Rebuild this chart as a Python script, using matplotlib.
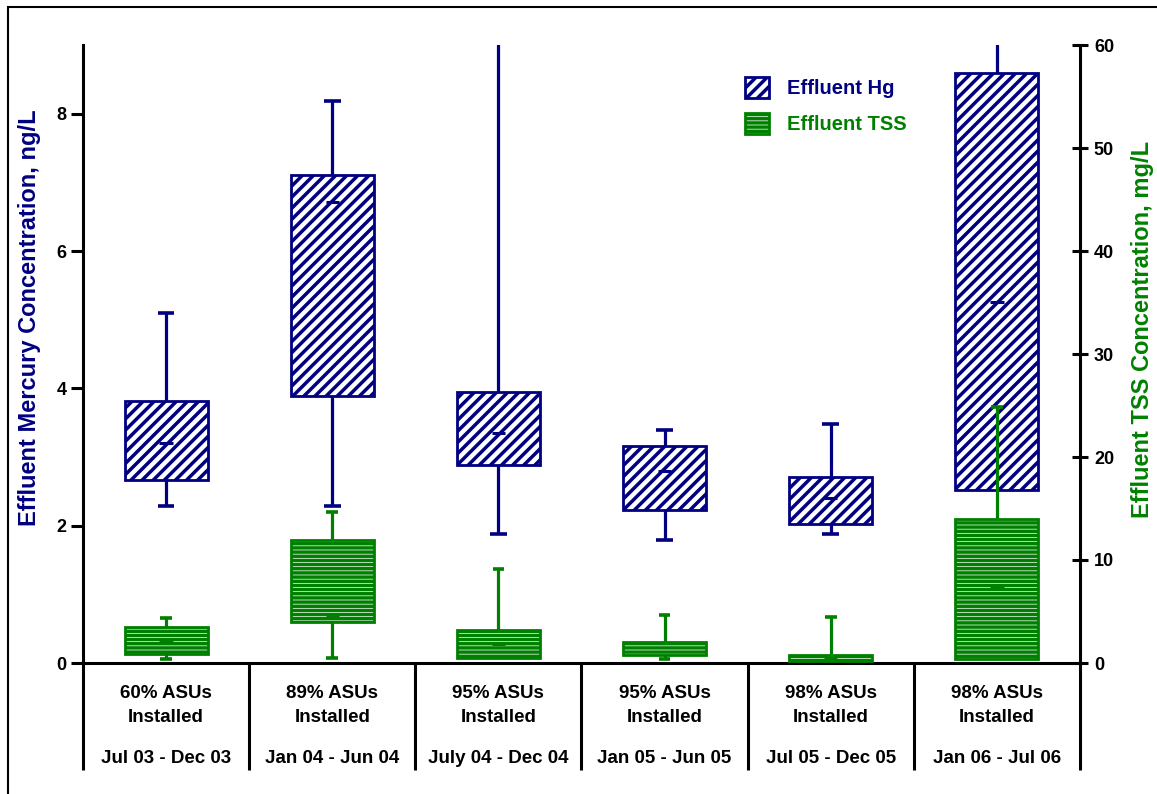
import matplotlib.pyplot as plt
import matplotlib.transforms as mtransforms
from matplotlib.patches import Patch, Rectangle
import numpy as np

plt.rcParams['font.family'] = ['Liberation Sans', 'DejaVu Sans']
plt.rcParams['font.weight'] = 'bold'
plt.rcParams['hatch.linewidth'] = 2.5

NAVY = '#000080'
GREEN = '#008000'
HG_HATCH = '///'
TSS_HATCH = '----'

pct_labels = ['60% ASUs', '89% ASUs', '95% ASUs', '95% ASUs', '98% ASUs', '98% ASUs']
periods = ['Jul 03 - Dec 03', 'Jan 04 - Jun 04', 'July 04 - Dec 04',
           'Jan 05 - Jun 05', 'Jul 05 - Dec 05', 'Jan 06 - Jul 06']

# effluent mercury, ng/L
hg_low = [2.29, 2.29, 1.88, 1.79, 1.88, 2.52]
hg_q1 = [2.67, 3.89, 2.89, 2.23, 2.03, 2.52]
hg_med = [3.20, 6.71, 3.35, 2.80, 2.40, 5.26]
hg_q3 = [3.82, 7.10, 3.95, 3.16, 2.71, 8.59]
hg_high = [5.10, 8.19, 10.6, 3.40, 3.48, 9.5]

# effluent TSS, mg/L
tss_low = [0.4, 0.5, 0.5, 0.4, 0.2, 0.4]
tss_q1 = [0.87, 4.0, 0.5, 0.8, 0.2, 0.4]
tss_med = [2.0, 4.5, 1.8, 1.9, 0.5, 7.3]
tss_q3 = [3.5, 11.9, 3.2, 2.0, 0.78, 14.0]
tss_high = [4.4, 14.7, 9.1, 4.7, 4.5, 24.9]

x = np.arange(1, len(periods) + 1)


def draw_boxes(ax, low, q1, med, q3, high, color, hatch, cap=0.1):
    q1 = np.array(q1)
    q3 = np.array(q3)
    bars = ax.bar(x, q3 - q1, bottom=q1, width=0.5, facecolor='white',
                  edgecolor=color, hatch=hatch, linewidth=2.0, zorder=2)
    for i, xi in enumerate(x):
        ax.vlines(xi, q3[i], high[i], color=color, lw=2.3, zorder=3)
        ax.hlines(high[i], xi - cap / 2, xi + cap / 2, color=color, lw=2.6, zorder=3)
        if low[i] < q1[i]:
            ax.vlines(xi, low[i], q1[i], color=color, lw=2.3, zorder=3)
            ax.hlines(low[i], xi - cap / 2, xi + cap / 2, color=color, lw=2.6, zorder=3)
        ax.hlines(med[i], xi - 0.04, xi + 0.04, color=color, lw=2.2, zorder=3)
    return bars


fig = plt.figure(figsize=(11.57, 7.94), dpi=100)

# outer frame
fig.patches.append(Rectangle((8 / 1157, -0.05), 1.1, 1.05 - 7 / 794,
                             transform=fig.transFigure, fill=False,
                             edgecolor='black', lw=1.5))

ax = fig.add_axes([83 / 1157, 1 - 663 / 794, (1080 - 83) / 1157, (663 - 45) / 794])
ax2 = ax.twinx()

draw_boxes(ax, hg_low, hg_q1, hg_med, hg_q3, hg_high, NAVY, HG_HATCH)
draw_boxes(ax2, tss_low, tss_q1, tss_med, tss_q3, tss_high, GREEN, TSS_HATCH, cap=0.07)

ax.set_xlim(0.5, 6.5)
ax.set_ylim(0, 9)
ax2.set_ylim(0, 60)
ax.set_yticks([0, 2, 4, 6, 8])
ax2.set_yticks([0, 10, 20, 30, 40, 50, 60])
ax.set_xticks([])

for a in (ax, ax2):
    a.spines['top'].set_visible(False)
    for s in a.spines.values():
        s.set_linewidth(2.2)
ax.spines['right'].set_visible(False)
ax2.spines['left'].set_visible(False)
ax2.spines['bottom'].set_visible(False)

ax.tick_params(axis='y', direction='out', length=9, width=2.2, labelsize=13, pad=3)
ax2.tick_params(axis='y', direction='inout', length=12, width=2.2, labelsize=13, pad=4)

ax.set_ylabel('Effluent Mercury Concentration, ng/L', color=NAVY, fontsize=17,
              fontweight='bold')
ax2.set_ylabel('Effluent TSS Concentration, mg/L', color=GREEN, fontsize=17,
               fontweight='bold')
ax.yaxis.set_label_coords(-0.042, 0.558)
ax2.yaxis.set_label_coords(1.051, 0.539)

# category table below the axis
trans = mtransforms.blended_transform_factory(ax.transData, ax.transAxes)
ax.vlines(np.arange(0.5, 7.0, 1.0), -0.173, 0, transform=trans, color='black',
          lw=2.2, clip_on=False)
for i, xi in enumerate(x):
    ax.text(xi, -0.050, pct_labels[i], transform=trans, ha='center', va='center',
            fontsize=13.5, fontweight='bold')
    ax.text(xi, -0.088, 'Installed', transform=trans, ha='center', va='center',
            fontsize=13.5, fontweight='bold')
    ax.text(xi, -0.154, periods[i], transform=trans, ha='center', va='center',
            fontsize=13.5, fontweight='bold')

handles = [Patch(facecolor='white', edgecolor=NAVY, hatch=HG_HATCH, lw=2),
           Patch(facecolor='white', edgecolor=GREEN, hatch=TSS_HATCH, lw=2)]
leg = fig.legend(handles, ['Effluent Hg', 'Effluent TSS'], loc='upper left',
                 bbox_to_anchor=(727 / 1157, 1 - 59 / 794), frameon=False,
                 fontsize=14.5, handlelength=1.2, handleheight=1.2,
                 labelspacing=0.75, handletextpad=0.9)
for t, c in zip(leg.get_texts(), [NAVY, GREEN]):
    t.set_color(c)
    t.set_fontweight('bold')

fig.savefig('out.png', dpi=100)
